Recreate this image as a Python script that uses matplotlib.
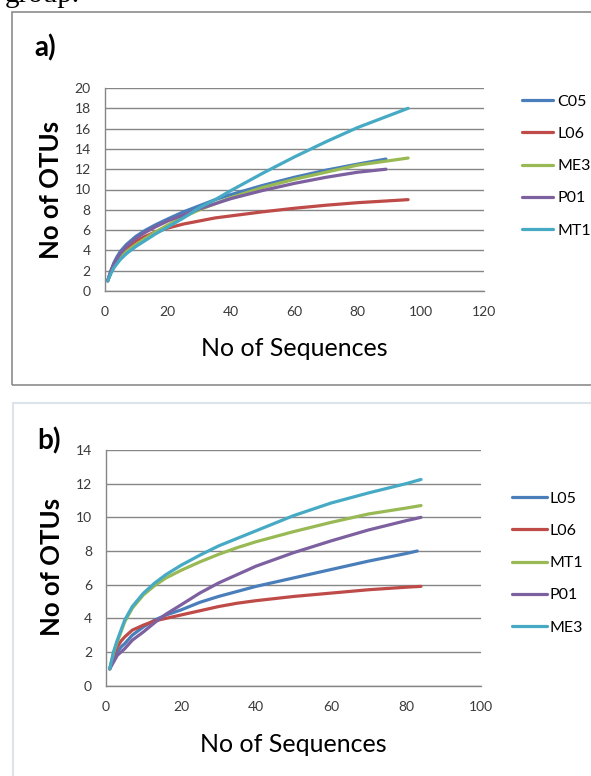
import numpy as np
import matplotlib.pyplot as plt
from matplotlib.patches import Rectangle

plt.rcParams['font.family'] = ['Lato', 'DejaVu Sans']

# panel a)
seq_a = [1, 2, 3, 4, 5, 7, 10, 13, 16, 20, 25, 30, 35, 40, 50, 60, 70, 80]
end_a = {'C05': 89, 'L06': 96, 'ME3': 96, 'P01': 89, 'MT1': 96}
otu_a = {
    'C05': [1, 2.0, 2.8, 3.4, 3.9, 4.6, 5.4, 6.0, 6.5, 7.1, 7.8, 8.4, 9.0, 9.5, 10.4, 11.2, 11.9, 12.5, 13.0],
    'L06': [1, 1.9, 2.6, 3.1, 3.5, 4.2, 4.9, 5.4, 5.8, 6.2, 6.6, 6.9, 7.2, 7.4, 7.8, 8.15, 8.45, 8.7, 9.0],
    'ME3': [1, 1.8, 2.4, 2.9, 3.3, 3.9, 4.6, 5.2, 5.8, 6.5, 7.3, 8.0, 8.6, 9.2, 10.2, 11.0, 11.7, 12.4, 13.1],
    'P01': [1, 1.9, 2.7, 3.2, 3.7, 4.4, 5.2, 5.8, 6.3, 6.9, 7.5, 8.1, 8.6, 9.1, 9.9, 10.6, 11.2, 11.7, 12.0],
    'MT1': [1, 1.7, 2.3, 2.7, 3.1, 3.7, 4.4, 5.0, 5.6, 6.3, 7.2, 8.2, 9.0, 9.9, 11.6, 13.2, 14.7, 16.1, 18.0],
}

# panel b)
seq_b = [1, 2, 3, 4, 5, 7, 10, 13, 16, 20, 25, 30, 35, 40, 50, 60, 70, 80]
end_b = {'L05': 83, 'L06': 84, 'MT1': 84, 'P01': 84, 'ME3': 84}
otu_b = {
    'L05': [1, 1.6, 2.0, 2.3, 2.5, 3.0, 3.5, 3.9, 4.2, 4.5, 4.95, 5.3, 5.6, 5.9, 6.4, 6.9, 7.4, 7.85, 8.0],
    'L06': [1, 1.8, 2.3, 2.65, 2.9, 3.3, 3.6, 3.85, 4.0, 4.2, 4.45, 4.7, 4.9, 5.05, 5.3, 5.5, 5.7, 5.85, 5.9],
    'MT1': [1, 1.95, 2.6, 3.2, 3.8, 4.6, 5.4, 5.95, 6.4, 6.85, 7.35, 7.8, 8.2, 8.55, 9.15, 9.7, 10.2, 10.55, 10.7],
    'P01': [1, 1.4, 1.8, 2.0, 2.2, 2.7, 3.2, 3.75, 4.25, 4.8, 5.5, 6.1, 6.6, 7.1, 7.9, 8.6, 9.25, 9.8, 10.0],
    'ME3': [1, 2.0, 2.7, 3.3, 3.9, 4.7, 5.5, 6.1, 6.6, 7.15, 7.75, 8.3, 8.75, 9.2, 10.1, 10.85, 11.45, 12.0, 12.25],
}

colors = ['#4a7ebb', '#be4b48', '#98b954', '#7d60a0', '#46aac5']

W, H = 591, 776
fig = plt.figure(figsize=(W / 100, H / 100), dpi=100)


def px_axes(left, top, right, bottom):
    return fig.add_axes([left / W, 1 - bottom / H, (right - left) / W, (bottom - top) / H])


def style(ax, xmax, ymax):
    ax.set_xlim(0, xmax)
    ax.set_ylim(0, ymax)
    ax.set_xticks(np.arange(0, xmax + 1, 20))
    ax.set_yticks(np.arange(0, ymax + 1, 2))
    ax.grid(axis='y', color='#868686', lw=1.0)
    ax.set_axisbelow(True)
    for s in ['top', 'right']:
        ax.spines[s].set_visible(False)
    for s in ['left', 'bottom']:
        ax.spines[s].set_color('#868686')
        ax.spines[s].set_linewidth(1.0)
    ax.tick_params(length=0, labelsize=10, labelcolor='#3a3a3a')
    ax.tick_params(axis='y', pad=10)
    ax.tick_params(axis='x', pad=11)


# panel frames
fig.add_artist(Rectangle((11.7 / W, 1 - 384.5 / H), 1.0, (384.5 - 11.7) / H,
                         transform=fig.transFigure, fill=False, ec='#8c8c8c', lw=1.2))
fig.add_artist(Rectangle((13.3 / W, -0.05), 1.0, 1 - 403.3 / H + 0.05,
                         transform=fig.transFigure, fill=False, ec='#dde3eb', lw=1.5))

fig.text(5 / W, 1 - 2 / H, 'group.', family='Liberation Serif', fontsize=21,
         ha='left', va='baseline')

# a)
ax1 = px_axes(104.5, 88, 484, 291)
for (name, vals), c in zip(otu_a.items(), colors):
    ax1.plot(seq_a + [end_a[name]], vals, color=c, lw=2.3, label=name,
             solid_capstyle='round', solid_joinstyle='round')
style(ax1, 120, 20)
ax1.set_xlabel('No of Sequences', fontsize=18)
ax1.set_ylabel('No of OTUs', fontsize=18.5, fontweight='bold', va='center', ha='center')
ax1.xaxis.set_label_coords(294 / W, 1 - 349 / H, transform=fig.transFigure)
ax1.xaxis.label.set_va('center')
ax1.yaxis.set_label_coords(51 / W, 1 - 190 / H, transform=fig.transFigure)
ax1.legend(loc='center left', bbox_to_anchor=(522 / W, 1 - 166 / H),
           bbox_transform=fig.transFigure, frameon=False, fontsize=11.5,
           handlelength=1.95, handletextpad=0.25, labelspacing=1.13,
           borderpad=0, borderaxespad=0)
fig.text(45 / W, 1 - 48 / H, 'a)', fontsize=20, fontweight='bold', ha='center', va='center')

# b)
ax2 = px_axes(106, 450, 481, 685.7)
for (name, vals), c in zip(otu_b.items(), colors):
    ax2.plot(seq_b + [end_b[name]], vals, color=c, lw=2.3, label=name,
             solid_capstyle='round', solid_joinstyle='round')
style(ax2, 100, 14)
ax2.set_xlabel('No of Sequences', fontsize=18)
ax2.set_ylabel('No of OTUs', fontsize=18.5, fontweight='bold', va='center', ha='center')
ax2.xaxis.set_label_coords(293 / W, 1 - 744 / H, transform=fig.transFigure)
ax2.xaxis.label.set_va('center')
ax2.yaxis.set_label_coords(52 / W, 1 - 567 / H, transform=fig.transFigure)
ax2.legend(loc='center left', bbox_to_anchor=(512 / W, 1 - 563 / H),
           bbox_transform=fig.transFigure, frameon=False, fontsize=11.5,
           handlelength=2.2, handletextpad=0.15, labelspacing=1.13,
           borderpad=0, borderaxespad=0)
fig.text(49 / W, 1 - 441 / H, 'b)', fontsize=20, fontweight='bold', ha='center', va='center')

fig.savefig('out.png', dpi=100)
